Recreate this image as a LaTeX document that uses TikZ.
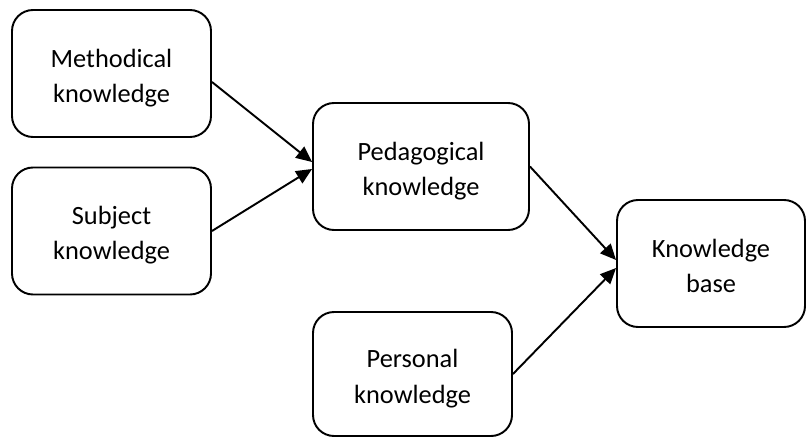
\documentclass[tikz,border=0pt]{standalone}
\usepackage{fontspec}
\setmainfont{Carlito}
\usetikzlibrary{arrows.meta}
\tikzset{
	kbox/.style={draw, line width=1.1pt, rounded corners=0.42cm, minimum width=3.98cm, minimum height=2.54cm, align=center, text height=36.5pt, text depth=3.5pt, font=\fontsize{15}{20}\selectfont},
	flow/.style={line width=1.1pt, -{Triangle[length=9pt,width=8pt]}}
}
\begin{document}
\begin{tikzpicture}
			%%%%% START %%%%%
			\useasboundingbox (0, 0) rectangle (16.14, 8.74);
			
			\node[kbox] (meth) at (2.23, 7.27) {Methodical\\knowledge};
			\node[kbox] (subj) at (2.23, 4.12) {Subject\\knowledge};
			
			\node[kbox, minimum width=4.32cm] (ped) at (8.42, 5.41) {Pedagogical\\knowledge};
			\node[kbox, minimum height=2.48cm] (pers) at (8.25, 1.26) {Personal\\knowledge};
			
			\node[kbox, minimum width=3.76cm] (base) at (14.22, 3.47) {Knowledge\\base};
			
			\draw[flow] ([yshift=-0.17cm]meth.east) -- ([yshift=0.09cm]ped.west);
			\draw[flow] (subj.east) -- ([yshift=-0.05cm]ped.west);
			\draw[flow] (ped.east) -- ([yshift=0.07cm]base.west);
			\draw[flow] (pers.east) -- ([yshift=-0.09cm]base.west);
			%%%%% END %%%%%
		\end{tikzpicture}
\end{document}
